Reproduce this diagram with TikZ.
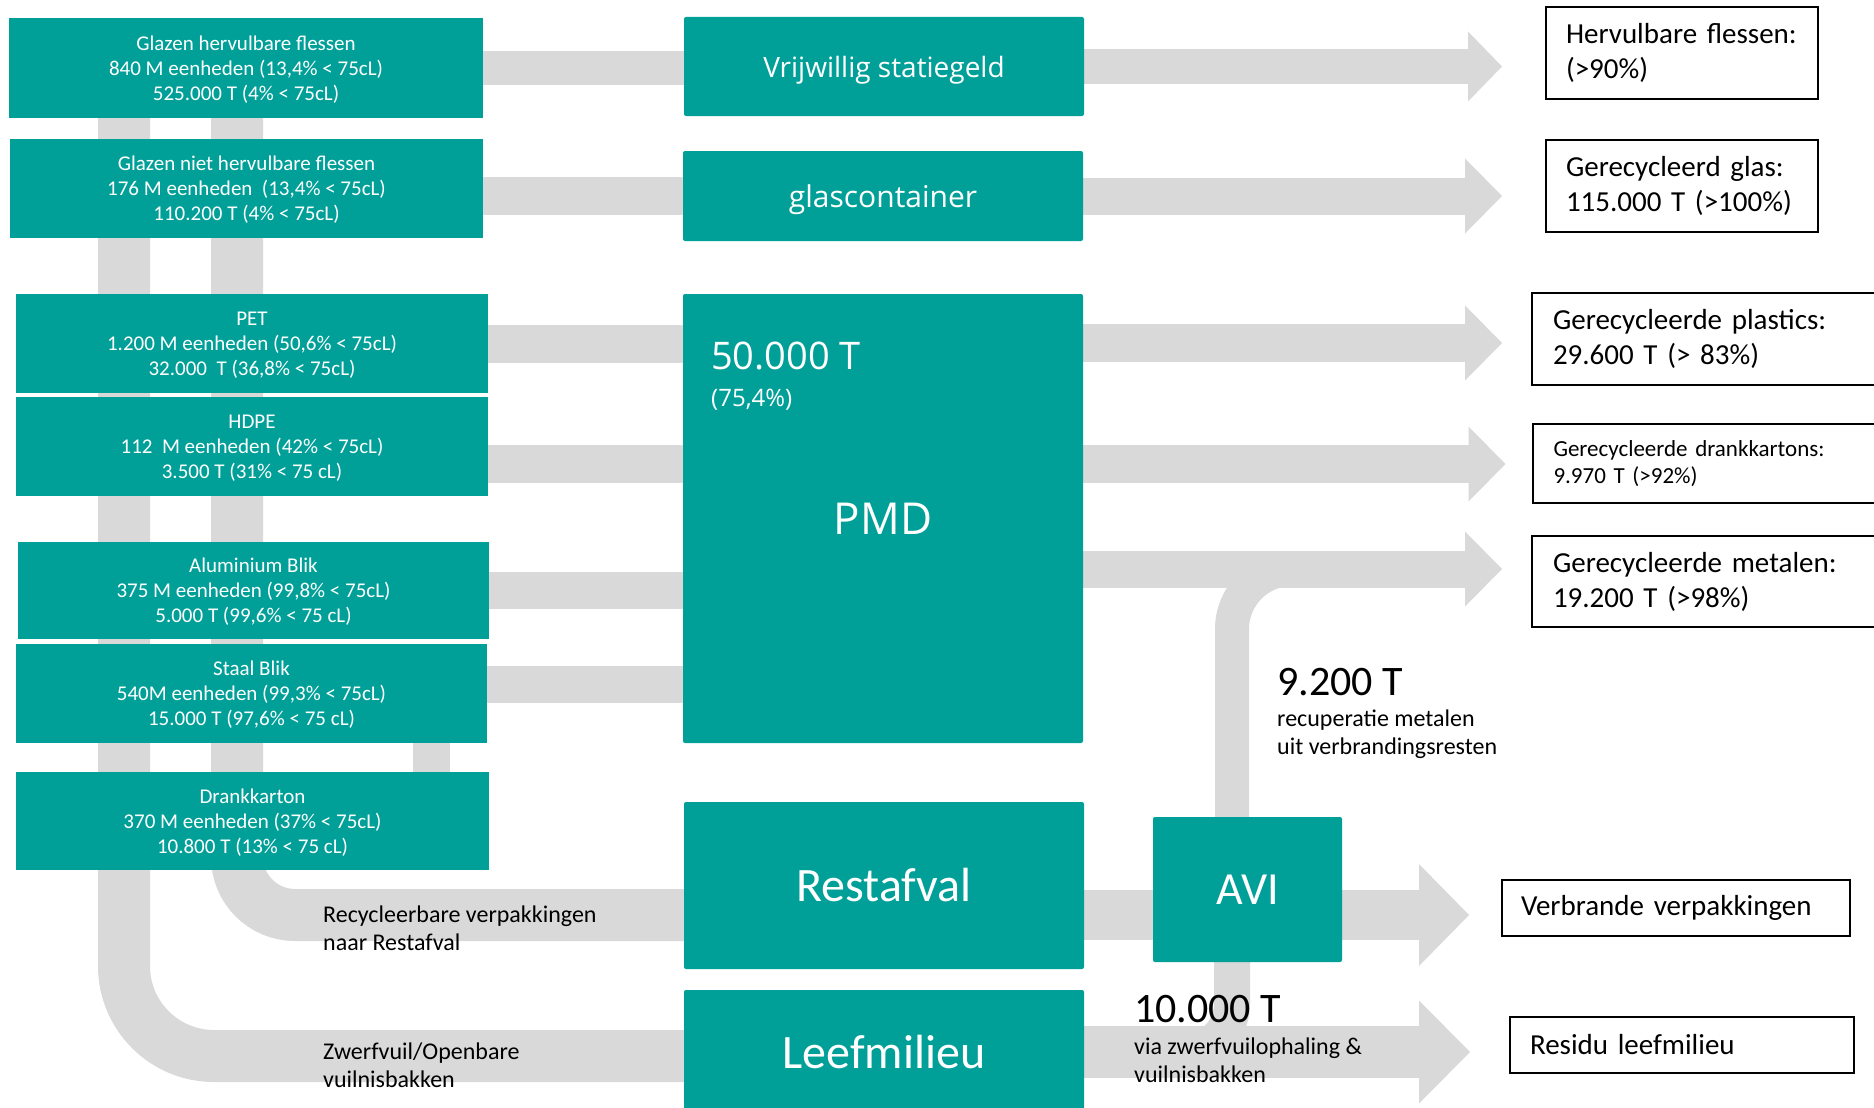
\documentclass[tikz,border=0pt]{standalone}
\usepackage{fontspec}
\setmainfont{Carlito}
\newfontfamily\widefont{Open Sans}
\usetikzlibrary{arrows.meta,backgrounds}
\definecolor{boxteal}{RGB}{0,160,153}
\definecolor{bandgray}{RGB}{217,217,217}
\newcommand{\fsz}[2]{\fontsize{#1}{#2}\selectfont}
\begin{document}
\begin{tikzpicture}[x=1pt,y=-1pt,
		inbox/.style={fill=boxteal,text=white,align=center,inner sep=0pt,text depth=0pt,font=\fsz{21}{25}},
		midbox/.style={fill=boxteal,text=white,inner sep=0pt,minimum width=400pt,rounded corners=2pt},
		outbox/.style={draw=black,line width=2pt,fill=white,align=left,inner xsep=20pt,inner ysep=0pt,font=\fsz{29}{35}},
		band/.style={draw=bandgray,line width=#1},
		flowtip/.style 2 args={-{Triangle[length=#1,width=#2,line width=0pt]}},
		note/.style={inner sep=0pt,align=left,font=\fsz{24}{28}}]
			\useasboundingbox (0,0) rectangle (1874,1108);
			\node[inbox,minimum width=474pt,minimum height=100pt] (glazenH) at (246,68) {Glazen hervulbare flessen\\840 M eenheden (13,4\% < 75cL)\\525.000 T (4\% < 75cL)};
			\node[inbox,minimum width=473pt,minimum height=99pt] (glazenN) at (246.5,188.5) {Glazen niet hervulbare flessen\\176 M eenheden~ (13,4\% < 75cL)\\110.200 T (4\% < 75cL)};
			\node[inbox,minimum width=472pt,minimum height=99pt] (pet) at (252,343.5) {PET\\1.200 M eenheden (50,6\% < 75cL)\\32.000~ T (36,8\% < 75cL)};
			\node[inbox,minimum width=472pt,minimum height=99pt] (hdpe) at (252,446.5) {HDPE\\112~ M eenheden (42\% < 75cL)\\3.500 T (31\% < 75 cL)};
			\node[inbox,minimum width=471pt,minimum height=97pt] (alu) at (253.5,590.5) {Aluminium Blik\\375 M eenheden (99,8\% < 75cL)\\5.000 T (99,6\% < 75 cL)};
			\node[inbox,minimum width=471pt,minimum height=99pt] (staal) at (251.5,693.5) {Staal Blik\\540M eenheden (99,3\% < 75cL)\\15.000 T (97,6\% < 75 cL)};
			\node[inbox,minimum width=473pt,minimum height=98pt] (drank) at (252.5,821) {Drankkarton\\370 M eenheden (37\% < 75cL)\\10.800 T (13\% < 75 cL)};
			\node[midbox,minimum height=99pt,text depth=0pt,font=\widefont\fsz{28}{34}] (vrijwillig) at (884,66.5) {Vrijwillig statiegeld};
			\node[midbox,minimum height=90pt,text depth=0pt,font=\widefont\fsz{30}{36}] (glas) at (883,196) {glascontainer};
			\node[midbox,minimum height=449pt,font=\widefont\fsz{44}{52}] (pmd) at (883,518.5) {PMD};
			\node[anchor=base west,inner sep=0pt,text=white,font=\widefont\fsz{38}{46}] (pmdton) at (711,369) {50.000 T};
			\node[anchor=base west,inner sep=0pt,text=white,font=\widefont\fsz{24}{28}] (pmdpct) at (711,406) {(75,4\%)};
			\node[midbox,minimum height=167pt,font=\fsz{48}{56}] (restafval) at (884,885.5) {Restafval};
			\node[midbox,minimum height=124pt,font=\fsz{48}{56}] (leef) at (884,1052) {Leefmilieu};
			\node[midbox,minimum width=189pt,minimum height=145pt,font=\fsz{46}{54}] (avi) at (1247.5,889.5) {AVI};
			\node[outbox,minimum height=92pt,text width=232pt] (herv) at (1682,53) {Hervulbare flessen:\\(>90\%)};
			\node[outbox,minimum height=92pt,text width=232pt] (glasr) at (1682,186) {Gerecycleerd glas:\\115.000 T (>100\%)};
			\node[outbox,minimum height=92pt,text width=306pt,inner xsep=21pt] (plas) at (1706,339) {Gerecycleerde plastics:\\29.600 T (> 83\%)};
			\node[outbox,minimum height=79pt,text width=306pt,inner xsep=21pt,font=\fsz{23}{27}] (dk) at (1706.5,463.5) {Gerecycleerde drankkartons:\\9.970 T (>92\%)};
			\node[outbox,minimum height=91pt,text width=306pt,inner xsep=21pt] (met) at (1706,581.5) {Gerecycleerde metalen:\\19.200 T (>98\%)};
			\node[outbox,minimum height=56pt,text width=310pt,inner xsep=19pt] (verb) at (1676,908) {Verbrande verpakkingen};
			\node[outbox,minimum height=56pt,text width=304pt] (res) at (1682,1045) {Residu leefmilieu};
			\node[anchor=base west,inner sep=0pt,font=\fsz{42}{50}] (metton) at (1277,695) {9.200 T};
			\node[note,anchor=north west] (metnote) at (1277,710) {recuperatie metalen\\uit verbrandingsresten};
			\node[anchor=base west,inner sep=0pt,font=\fsz{42}{50}] (litton) at (1134,1022) {10.000 T};
			\node[note,anchor=north west] (littnote) at (1134,1038) {via zwerfvuilophaling \&\\vuilnisbakken};
			\node[note,anchor=north west] (recnote) at (323,906) {Recycleerbare verpakkingen\\naar Restafval};
			\node[note,anchor=north west] (zwnote) at (323,1043) {Zwerfvuil/Openbare\\vuilnisbakken};
			\coordinate (colA) at (124,110);
			\coordinate (colB) at (237,110);
			\coordinate (stub) at (431,0);
			\coordinate (avibranch) at (1232,0);
			\coordinate (avijoin) at (1400,569);
			\coordinate (hdperow) at (0,464);
			\coordinate (staalrow) at (0,684.5);
			\coordinate (petrow) at (0,343);
			\coordinate (metrow) at (0,569);
			\coordinate (restrow) at (0,915);
			\coordinate (litterrow) at (0,1056);
			\begin{pgfonlayer}{background}
				\fill[white] (0,0) rectangle (1874,1108);
				\draw[band=34pt] (glazenH.east) -- (glazenH.east -| vrijwillig.west);
				\draw[band=38pt] (glazenN.east |- glas.west) -- (glas.west);
				\draw[band=38pt] (pet.east) -- (pet.east -| pmd.west);
				\draw[band=38pt] (hdpe.east |- hdperow) -- (pmd.west |- hdperow);
				\draw[band=37pt] (alu.east) -- (alu.east -| pmd.west);
				\draw[band=37pt] (staal.east |- staalrow) -- (pmd.west |- staalrow);
				\draw[band=52pt,rounded corners=90pt] (colA) |- (leef.west |- litterrow);
				\draw[band=52pt,rounded corners=58pt] (colB) |- (restafval.west |- restrow);
				\draw[band=37pt] (staal.south -| stub) -- (drank.north -| stub);
				\draw[band=34pt,flowtip={34pt}{70pt},shorten >=43pt] (vrijwillig.east) -- (vrijwillig.east -| herv.west);
				\draw[band=37pt,flowtip={37pt}{75pt},shorten >=43pt] (glas.east) -- (glas.east -| glasr.west);
				\draw[band=38pt,flowtip={37pt}{75pt},shorten >=29pt] (pmd.east |- petrow) -- (plas.west |- petrow);
				\draw[band=38pt,flowtip={37pt}{75pt},shorten >=26pt] (pmd.east |- hdperow) -- (dk.west |- hdperow);
				\draw[band=37pt,flowtip={37pt}{75pt},shorten >=29pt] (pmd.east |- metrow) -- (met.west |- metrow);
				\draw[band=34pt,rounded corners=60pt] (avi.north -| avibranch) |- (avijoin);
				\draw[band=50pt,flowtip={50pt}{102pt},shorten >=32pt] (restafval.east |- restrow) -- (verb.west |- restrow);
				\draw[band=36pt,rounded corners=48pt] (leef.east) -| (avi.south -| avibranch);
				\draw[band=52pt,flowtip={51pt}{103pt},shorten >=39pt] (leef.east) -- (leef.east -| res.west);
			\end{pgfonlayer}
		\end{tikzpicture}
\end{document}
